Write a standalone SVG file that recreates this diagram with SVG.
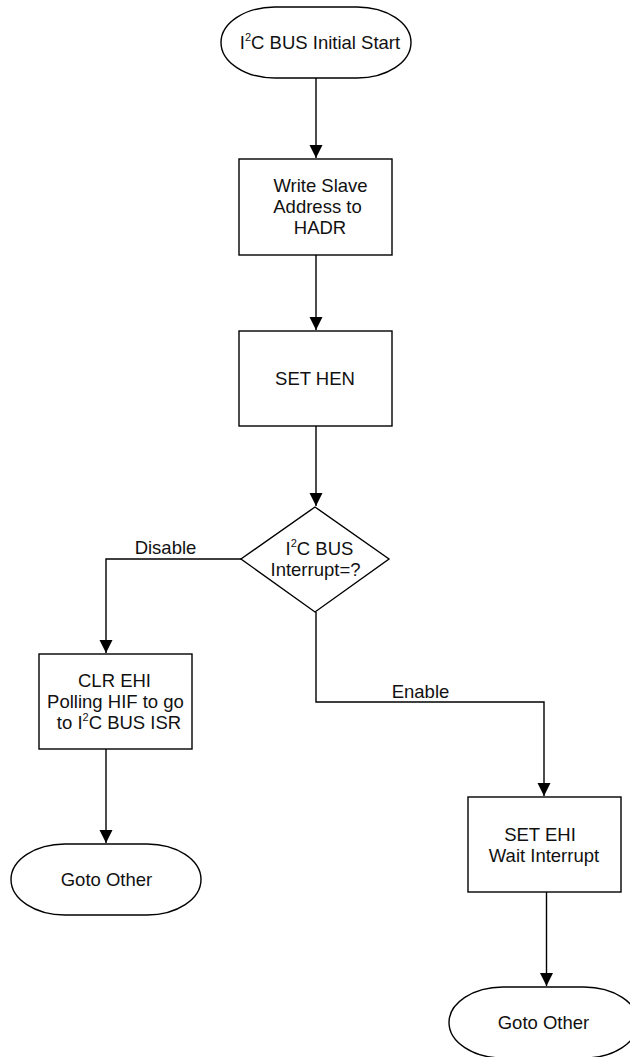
<svg xmlns="http://www.w3.org/2000/svg" width="630" height="1057" viewBox="0 0 630 1057">
<style>
.shape{fill:#fff;stroke:#000;stroke-width:1.4}
.conn{fill:none;stroke:#000;stroke-width:1.4}
text{font-family:"Liberation Sans",Arial,sans-serif;font-size:18.5px;fill:#111;text-anchor:middle}
.sup{font-size:11px}
</style>
<defs>
<marker id="arr" markerUnits="userSpaceOnUse" markerWidth="14" markerHeight="14" refX="13" refY="6.5" orient="auto">
<path d="M0,0 L13,6.5 L0,13 Z" fill="#000"/>
</marker>
</defs>
<rect width="630" height="1057" fill="#fff"/>
<g id="connectors">
<path class="conn" d="M316,78 V158" marker-end="url(#arr)"/>
<path class="conn" d="M316,255 V330" marker-end="url(#arr)"/>
<path class="conn" d="M316,426 V506" marker-end="url(#arr)"/>
<path class="conn" d="M241,559 H106 V653" marker-end="url(#arr)"/>
<path class="conn" d="M316,612 V702 H544 V796" marker-end="url(#arr)"/>
<path class="conn" d="M106,749 V843" marker-end="url(#arr)"/>
<path class="conn" d="M546.5,892 V986" marker-end="url(#arr)"/>
<text x="165.5" y="554">Disable</text>
<text x="420.5" y="698">Enable</text>
</g>
<g id="start">
<path class="shape" d="M275,7 H357 A54,35.5 0 0 1 357,78 H275 A54,35.5 0 0 1 275,7 Z"/>
<text x="320" y="49">I<tspan class="sup" dy="-8">2</tspan><tspan dy="8">C BUS Initial Start</tspan></text>
</g>
<g id="write-slave">
<rect class="shape" x="239" y="159" width="153" height="96"/>
<text x="320.5" y="192">Write Slave</text>
<text x="317.5" y="213">Address to</text>
<text x="320" y="234">HADR</text>
</g>
<g id="set-hen">
<rect class="shape" x="239" y="331" width="153" height="95"/>
<text x="315" y="384.5">SET HEN</text>
</g>
<g id="decision">
<path class="shape" d="M315,507 L389,559 L315,612 L241,559 Z"/>
<text x="319.5" y="555">I<tspan class="sup" dy="-8">2</tspan><tspan dy="8">C BUS</tspan></text>
<text x="315.5" y="576">Interrupt=?</text>
</g>
<g id="clr-ehi">
<rect class="shape" x="39" y="654" width="153" height="95"/>
<text x="114.5" y="687">CLR EHI</text>
<text x="115.5" y="708">Polling HIF to go</text>
<text x="119" y="729">to I<tspan class="sup" dy="-8">2</tspan><tspan dy="8">C BUS ISR</tspan></text>
</g>
<g id="goto-left">
<path class="shape" d="M65,844 H147 A54,35.5 0 0 1 147,915 H65 A54,35.5 0 0 1 65,844 Z"/>
<text x="106.5" y="886">Goto Other</text>
</g>
<g id="set-ehi">
<rect class="shape" x="468" y="797" width="153" height="95"/>
<text x="540" y="841">SET EHI</text>
<text x="544" y="862">Wait Interrupt</text>
</g>
<g id="goto-right">
<path class="shape" d="M503,987 H584 A54,35.5 0 0 1 584,1058 H503 A54,35.5 0 0 1 503,987 Z"/>
<text x="543.5" y="1029">Goto Other</text>
</g>
</svg>
